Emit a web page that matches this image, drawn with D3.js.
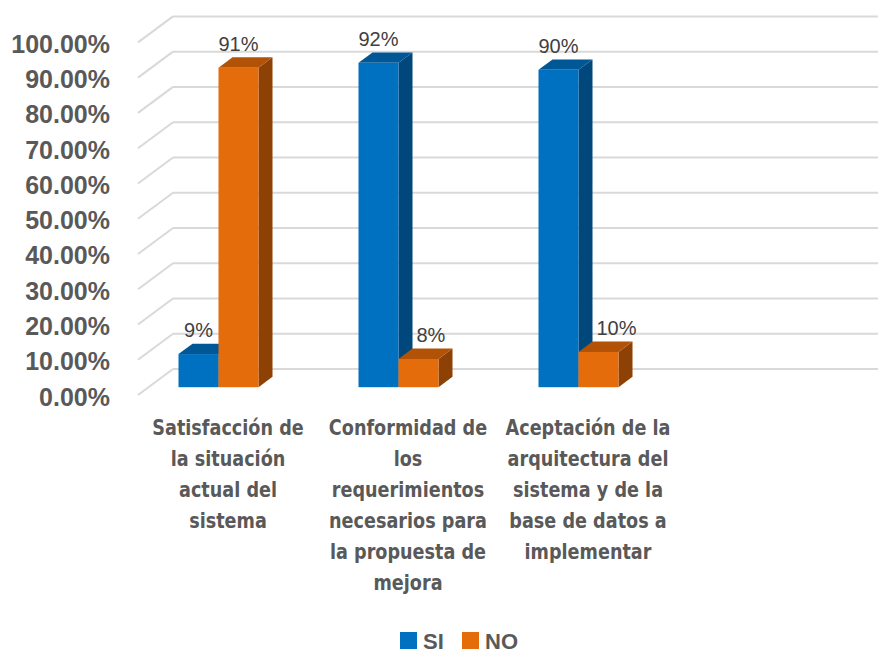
<!DOCTYPE html>
<html>
<head>
<meta charset="utf-8">
<script src="https://cdn.jsdelivr.net/npm/d3@7"></script>
<style>
  html, body { margin: 0; padding: 0; background: #fff; }
  svg { display: block; }
</style>
</head>
<body>
<div id="chart"></div>
<script>
// Data
const categories = [
  'Satisfacción de\nla situación\nactual del\nsistema',
  'Conformidad de\nlos\nrequerimientos\nnecesarios para\nla propuesta de\nmejora',
  'Aceptación de la\narquitectura del\nsistema y de la\nbase de datos a\nimplementar'
];
const series = ['SI', 'NO'];
const siValues = [0.094, 0.92, 0.90];
const noValues = [0.906, 0.08, 0.10];
const tickValues = [0, 0.1, 0.2, 0.3, 0.4, 0.5, 0.6, 0.7, 0.8, 0.9, 1.0];

const colors = {
  SI: { front: '#0070C0', top: '#005796', side: '#00477C' },
  NO: { front: '#E46C0A', top: '#B25207', side: '#8E4105' }
};

const width = 878, height = 655;

// 3D geometry: front plane + depth vector
const depthX = 35, depthY = 26;
const barDepthStart = 0.3, barDepthSize = 0.4;
const wallLeft = 138, wallRight = width - depthX;

const svg = d3.select('#chart')
  .append('svg')
  .attr('width', width)
  .attr('height', height);

const y = d3.scaleLinear().domain([0, 1]).range([395, 42.4]);

const x = d3.scaleBand()
  .domain(categories)
  .range([118, 658]);

const xSub = d3.scaleBand()
  .domain(series)
  .range([50, 130]);

// Gridlines: side wall diagonals + back wall
const grid = svg.append('g');
tickValues.forEach(t => {
  grid.append('line')
    .attr('x1', wallLeft).attr('y1', y(t))
    .attr('x2', wallLeft + depthX).attr('y2', y(t) - depthY)
    .attr('stroke', '#d9d9d9').attr('stroke-width', 2);
  grid.append('line')
    .attr('x1', wallLeft + depthX).attr('y1', y(t) - depthY)
    .attr('x2', wallRight + depthX).attr('y2', y(t) - depthY)
    .attr('stroke', '#d9d9d9').attr('stroke-width', 2);
});

// Y axis labels
const yAxis = svg.append('g')
  .attr('transform', 'translate(110,2)')
  .call(d3.axisLeft(y).tickValues(tickValues).tickFormat(d3.format('.2%')).tickSize(0).tickPadding(0));
yAxis.select('.domain').remove();
yAxis.selectAll('text')
  .attr('fill', '#595959')
  .style('font-family', '"Liberation Sans", Arial, sans-serif')
  .style('font-weight', 'bold')
  .style('font-size', '25px');

// Bars
const offX = barDepthStart * depthX, offY = barDepthStart * depthY;
const bdx = barDepthSize * depthX, bdy = barDepthSize * depthY;
const valuesBy = { SI: siValues, NO: noValues };

const barG = svg.append('g');
categories.forEach((c, i) => {
  let prev = null;
  series.forEach(s => {
    const v = valuesBy[s][i];
    const x0 = x(c) + xSub(s) + offX;
    const x1 = x0 + xSub.bandwidth();
    const yTop = y(v) - offY;
    const yBase = y(0) - offY;
    const col = colors[s];
    const g = barG.append('g');
    g.append('polygon')
      .attr('points', [[x1, yTop], [x1 + bdx, yTop - bdy], [x1 + bdx, yBase - bdy], [x1, yBase]].join(' '))
      .attr('fill', col.side);
    g.append('polygon')
      .attr('points', [[x0, yTop], [x0 + bdx, yTop - bdy], [x1 + bdx, yTop - bdy], [x1, yTop]].join(' '))
      .attr('fill', col.top);
    g.append('rect')
      .attr('x', x0).attr('y', yTop)
      .attr('width', x1 - x0).attr('height', yBase - yTop)
      .attr('fill', col.front);
    const label = g.append('text')
      .attr('x', (x0 + x1) / 2)
      .attr('y', yTop - 17)
      .attr('text-anchor', 'middle')
      .attr('fill', '#404040')
      .style('font-family', '"Liberation Sans", Arial, sans-serif')
      .style('font-size', '20px')
      .text(d3.format('.0%')(v));
    // push label right when the taller bar beside it would cover it
    if (prev && prev.v > v) {
      label.attr('text-anchor', 'start').attr('x', prev.x1 + bdx + 4);
    }
    prev = { v, x1 };
  });
});

// Category labels
categories.forEach(c => {
  const cx = x(c) + x.bandwidth() / 2 + 20;
  const g = svg.append('g')
    .attr('transform', `translate(${cx},435) scale(0.84,1)`);
  c.split('\n').forEach((line, j) => {
    g.append('text')
      .attr('x', 0)
      .attr('y', j * 31)
      .attr('text-anchor', 'middle')
      .attr('fill', '#595959')
      .style('font-family', '"DejaVu Sans", sans-serif')
      .style('font-weight', 'bold')
      .style('font-size', '21px')
      .text(line);
  });
});

// Legend
const legend = svg.append('g').attr('transform', 'translate(400,632)');
const legX = d3.scaleOrdinal().domain(series).range([0, 62]);
series.forEach(s => {
  legend.append('rect')
    .attr('x', legX(s)).attr('y', 0)
    .attr('width', 17).attr('height', 17)
    .attr('fill', colors[s].front);
  legend.append('text')
    .attr('x', legX(s) + 23)
    .attr('y', 17)
    .attr('fill', '#595959')
    .style('font-family', '"Liberation Sans", Arial, sans-serif')
    .style('font-weight', 'bold')
    .style('font-size', '22px')
    .text(s);
});
</script>
</body>
</html>
